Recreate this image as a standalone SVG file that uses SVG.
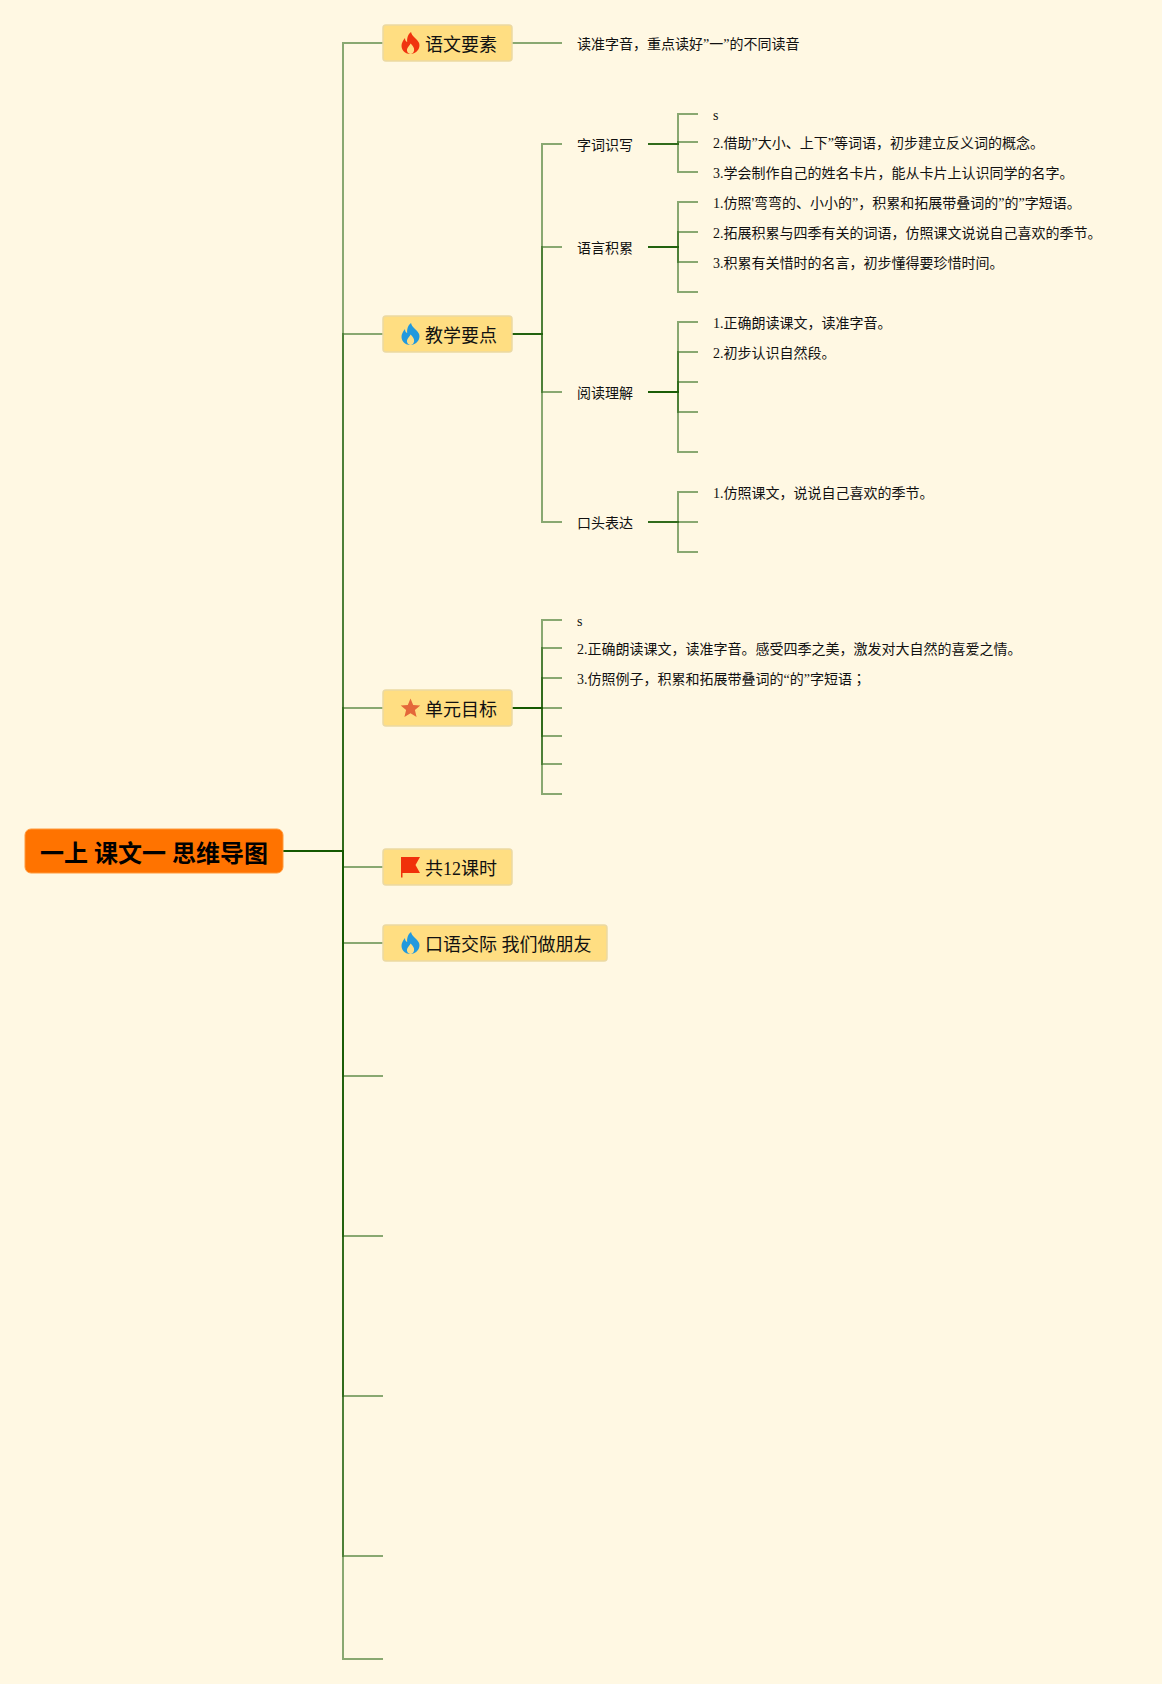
<svg xmlns="http://www.w3.org/2000/svg" xmlns:xlink="http://www.w3.org/1999/xlink" width="1162" height="1684" viewBox="0 0 1162 1684">
<style>
text{font-family:"Liberation Serif","Noto Sans CJK SC",serif;fill:#111}
.t{font-size:14px}
.n{font-size:18px}
.r{font-size:24px;font-weight:bold;fill:#000}
.box{fill:#FFDE82;stroke:#EBD9A3;stroke-width:1.5}
.root{fill:#FF7300;stroke:#FF9A3C;stroke-width:1}
#connectors path{fill:none;stroke:#145800;stroke-opacity:.5;stroke-width:2}
</style>
<defs>
<g id="flame" transform="scale(1.1)">
<path d="M0.500,-10C1,-6 6,-4 7.800,0C9.500,5 5,10 0,10C-5.500,10 -9,6 -8,1C-7.500,-1 -6.200,-3 -5,-4.500C-5,-2.500 -4.200,-1 -3,-1C-3.300,-4 -2.500,-8 0.500,-10Z"/>
<path fill="#FFDE82" d="M0,10C-2.500,9.800 -4,7 -2.800,4.800C-2,3.300 -0.500,2 0,0.500C1.500,2 3.700,4 3.300,6.500C3,8.500 1.800,9.800 0,10Z"/>
</g>
</defs>
<rect width="1162" height="1684" fill="#FFF8E3"/>
<g id="connectors">
<path d="M283,851H343V43H383"/>
<path d="M283,851H343V334H383"/>
<path d="M283,851H343V708H383"/>
<path d="M283,851H343V867H383"/>
<path d="M283,851H343V943H383"/>
<path d="M283,851H343V1076H383"/>
<path d="M283,851H343V1236H383"/>
<path d="M283,851H343V1396H383"/>
<path d="M283,851H343V1556H383"/>
<path d="M283,851H343V1659H383"/>
<path d="M512,43H562"/>
<path d="M512,334H542V144H562"/>
<path d="M512,334H542V247H562"/>
<path d="M512,334H542V392H562"/>
<path d="M512,334H542V522H562"/>
<path d="M648,144H678V114H698"/>
<path d="M648,144H678V142H698"/>
<path d="M648,144H678V172H698"/>
<path d="M648,247H678V202H698"/>
<path d="M648,247H678V232H698"/>
<path d="M648,247H678V262H698"/>
<path d="M648,247H678V292H698"/>
<path d="M648,392H678V322H698"/>
<path d="M648,392H678V352H698"/>
<path d="M648,392H678V382H698"/>
<path d="M648,392H678V412H698"/>
<path d="M648,392H678V452H698"/>
<path d="M648,522H678V492H698"/>
<path d="M648,522H678V522H698"/>
<path d="M648,522H678V552H698"/>
<path d="M512,708H542V620H562"/>
<path d="M512,708H542V648H562"/>
<path d="M512,708H542V678H562"/>
<path d="M512,708H542V708H562"/>
<path d="M512,708H542V736H562"/>
<path d="M512,708H542V764H562"/>
<path d="M512,708H542V794H562"/>
</g>
<g id="root"><rect class="root" x="25" y="829" width="258" height="44" rx="6"/><text class="r" x="40" y="862">一上 课文一 思维导图</text></g>
<g id="node-yuwen"><rect class="box" x="383" y="25" width="129" height="36" rx="3"/><use href="#flame" x="410.500" y="43" fill="#F0340F"/><text class="n" x="425" y="50.500">语文要素</text></g>
<g id="node-jiaoxue"><rect class="box" x="383" y="316" width="129" height="36" rx="3"/><use href="#flame" x="410.500" y="334" fill="#2299DD"/><text class="n" x="425" y="341.500">教学要点</text></g>
<g id="node-danyuan"><rect class="box" x="383" y="690" width="129" height="36" rx="3"/><polygon fill="#E4673A" points="410.500,698.500 413.200,705 420.300,705.500 414.900,710.100 416.600,717 410.500,713.300 404.400,717 406.100,710.100 400.700,705.500 407.800,705"/><text class="n" x="425" y="715.500">单元目标</text></g>
<g id="node-keshi"><rect class="box" x="383" y="849" width="129" height="36" rx="3"/><path fill="#F0300A" d="M401,857H420L415.500,865L420,873H402.500V877.500H401Z"/><text class="n" x="425" y="874.500">共12课时</text></g>
<g id="node-kouyu"><rect class="box" x="383" y="925" width="224" height="36" rx="3"/><use href="#flame" x="410.500" y="943" fill="#2299DD"/><text class="n" x="425" y="950.500">口语交际 我们做朋友</text></g>
<g id="leaf-a1"><text class="t" x="577" y="49">读准字音，重点读好”一”的不同读音</text></g>
<g id="sub-ziciya"><text class="t" x="577" y="150">字词识写</text></g>
<g id="sub-yuyan"><text class="t" x="577" y="253">语言积累</text></g>
<g id="sub-yuedu"><text class="t" x="577" y="398">阅读理解</text></g>
<g id="sub-koutou"><text class="t" x="577" y="528">口头表达</text></g>
<g id="leaf-b1"><text class="t" x="713" y="120">s</text></g>
<g id="leaf-b2"><text class="t" x="713" y="147.500">2.借助”大小、上下”等词语，初步建立反义词的概念。</text></g>
<g id="leaf-b3"><text class="t" x="713" y="178">3.学会制作自己的姓名卡片，能从卡片上认识同学的名字。</text></g>
<g id="leaf-c1"><text class="t" x="713" y="208">1.仿照'弯弯的、小小的”，积累和拓展带叠词的”的”字短语。</text></g>
<g id="leaf-c2"><text class="t" x="713" y="238">2.拓展积累与四季有关的词语，仿照课文说说自己喜欢的季节。</text></g>
<g id="leaf-c3"><text class="t" x="713" y="268">3.积累有关惜时的名言，初步懂得要珍惜时间。</text></g>
<g id="leaf-d1"><text class="t" x="713" y="328">1.正确朗读课文，读准字音。</text></g>
<g id="leaf-d2"><text class="t" x="713" y="358">2.初步认识自然段。</text></g>
<g id="leaf-e1"><text class="t" x="713" y="498">1.仿照课文，说说自己喜欢的季节。</text></g>
<g id="leaf-f1"><text class="t" x="577" y="626">s</text></g>
<g id="leaf-f2"><text class="t" x="577" y="654">2.正确朗读课文，读准字音。感受四季之美，激发对大自然的喜爱之情。</text></g>
<g id="leaf-f3"><text class="t" x="577" y="684">3.仿照例子，积累和拓展带叠词的“的”字短语<tspan style="font-family:'Noto Sans CJK TC',sans-serif">；</tspan></text></g>
</svg>
